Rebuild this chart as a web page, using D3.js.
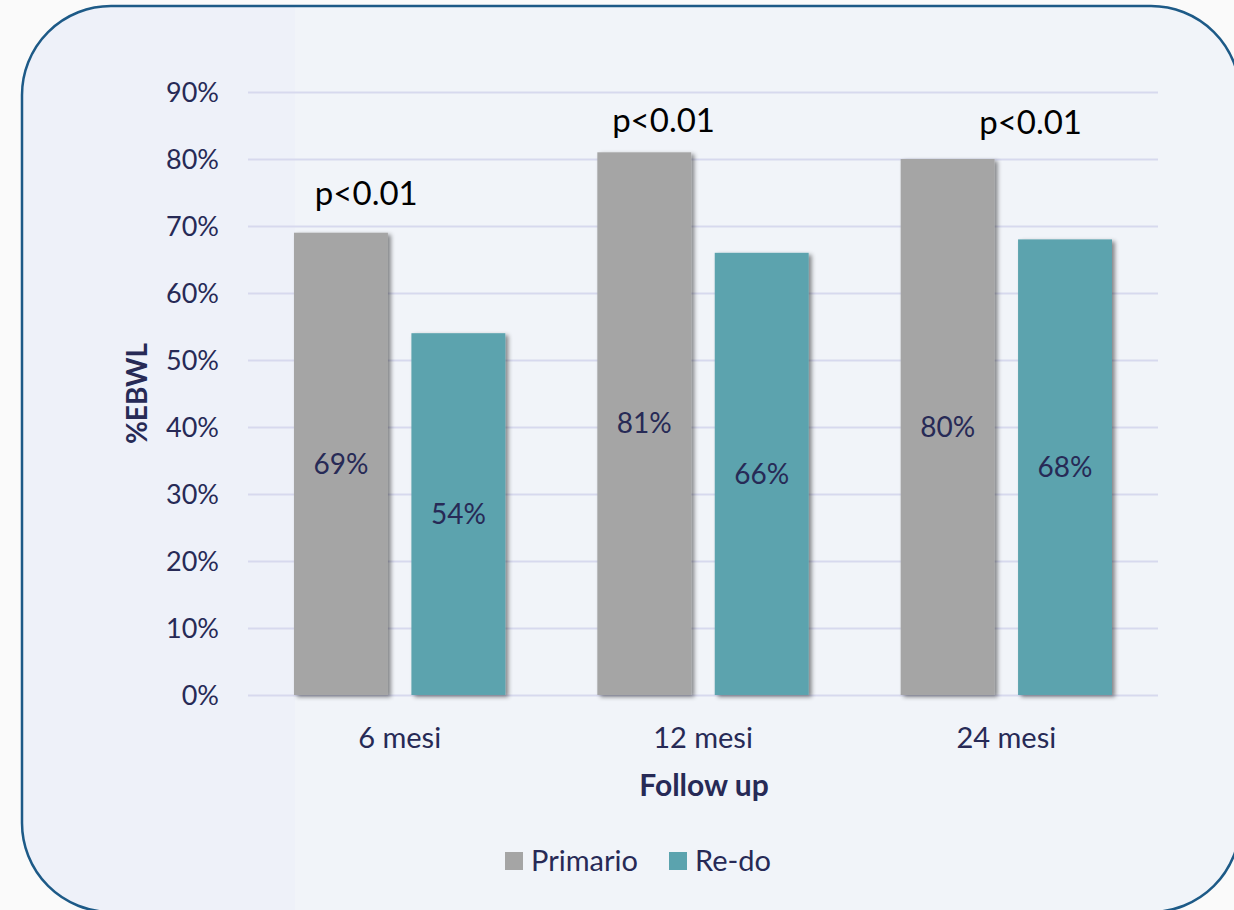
<!DOCTYPE html>
<html>
<head>
<meta charset="utf-8">
<script src="https://cdn.jsdelivr.net/npm/d3@7"></script>
<style>
  html, body { margin: 0; padding: 0; background: #fafafa; }
  svg { display: block; }
  text { font-family: Lato, "Open Sans", sans-serif; }
</style>
</head>
<body>
<svg id="chart" width="1234" height="910"></svg>
<script>
// Follow-up periods and %EBWL per group
const categories = ["6 mesi", "12 mesi", "24 mesi"];
const seriesNames = ["Primario", "Re-do"];
const primario = [69, 81, 80];
const redo = [54, 66, 68];
const yTicks = [0, 10, 20, 30, 40, 50, 60, 70, 80, 90];
const pLabels = ["p<0.01", "p<0.01", "p<0.01"];
// significance label anchors: height in % and horizontal shift within the band
const pLabelLevel = [74.9, 85.8, 85.5];
const pLabelShift = [-0.11, -0.13, 0.08];

const colors = { "Primario": "#a5a5a5", "Re-do": "#5ba3ae" };
const textColor = "#272a56";

const svg = d3.select("#chart");
const W = 1234, H = 910;

// drop shadow for bars
const defs = svg.append("defs");
const f = defs.append("filter").attr("id", "barShadow")
  .attr("x", "-10%").attr("y", "-10%").attr("width", "130%").attr("height", "130%");
f.append("feDropShadow").attr("dx", 3).attr("dy", 2).attr("stdDeviation", 2)
  .attr("flood-color", "#000").attr("flood-opacity", 0.45);

// rounded panel geometry
const panel = { x: 22, y: 6, w: 1218, h: 906, r: 89 };

const clip = defs.append("clipPath").attr("id", "panelClip");
clip.append("rect").attr("x", panel.x).attr("y", panel.y).attr("width", panel.w).attr("height", panel.h)
  .attr("rx", panel.r).attr("ry", panel.r);

svg.append("rect").attr("x", panel.x).attr("y", panel.y).attr("width", panel.w).attr("height", panel.h)
  .attr("rx", panel.r).attr("ry", panel.r).attr("fill", "#eef1f9");
svg.append("rect").attr("clip-path", "url(#panelClip)")
  .attr("x", 295).attr("y", 0).attr("width", W - 295).attr("height", H)
  .attr("fill", "#f1f4f9");
svg.append("rect").attr("x", panel.x).attr("y", panel.y).attr("width", panel.w).attr("height", panel.h)
  .attr("rx", panel.r).attr("ry", panel.r).attr("fill", "none")
  .attr("stroke", "#1d5a87").attr("stroke-width", 2.5);

const margin = { left: 248, right: 1158, top: 92, bottom: 695 };

const y = d3.scaleLinear().domain([0, 90]).range([margin.bottom, margin.top]);
const x0 = d3.scaleBand().domain(categories).range([margin.left, margin.right]).paddingInner(0).paddingOuter(0);
const x1 = d3.scaleBand().domain(seriesNames).range([46, x0.bandwidth() - 46]).paddingInner(0.2);

// gridlines via axis
const grid = svg.append("g").attr("transform", `translate(${margin.left},0)`)
  .call(d3.axisRight(y).tickValues(yTicks).tickSize(margin.right - margin.left).tickFormat(""));
grid.select(".domain").remove();
grid.selectAll(".tick line").attr("stroke", "#d7d9ee").attr("stroke-width", 2);

// y tick labels
const yAxis = svg.append("g").attr("transform", `translate(219,0)`)
  .call(d3.axisLeft(y).tickValues(yTicks).tickSize(0).tickPadding(0).tickFormat(d => d + "%"));
yAxis.select(".domain").remove();
yAxis.selectAll("text").attr("fill", textColor).attr("font-size", 27)
  .style("font-family", "Lato, 'Open Sans', sans-serif").attr("dy", "0.35em");

// bars
const rows = categories.map((c, i) => ({ cat: c, vals: [
  { s: "Primario", v: primario[i] }, { s: "Re-do", v: redo[i] }] }));

const groups = svg.append("g").selectAll("g").data(rows).join("g")
  .attr("transform", d => `translate(${x0(d.cat)},0)`);

groups.selectAll("rect").data(d => d.vals).join("rect")
  .attr("x", d => x1(d.s)).attr("width", x1.bandwidth())
  .attr("y", d => y(d.v)).attr("height", d => y(0) - y(d.v))
  .attr("fill", d => colors[d.s]).attr("filter", "url(#barShadow)");

groups.selectAll("text.val").data(d => d.vals).join("text").attr("class", "val")
  .attr("x", d => x1(d.s) + x1.bandwidth() / 2)
  .attr("y", d => (y(d.v) + y(0)) / 2)
  .attr("dy", "0.35em").attr("text-anchor", "middle")
  .attr("fill", textColor).attr("font-size", 28)
  .text(d => d.v + "%");

// x category labels
const xAxis = svg.append("g").attr("transform", `translate(0,${margin.bottom})`)
  .call(d3.axisBottom(x0).tickSize(0).tickPadding(0));
xAxis.select(".domain").remove();
xAxis.selectAll("text").attr("fill", textColor).attr("font-size", 29)
  .style("font-family", "Lato, 'Open Sans', sans-serif")
  .attr("dy", null).attr("y", 53);

// significance labels
svg.append("g").selectAll("text").data(categories).join("text")
  .attr("x", (d, i) => x0(d) + x0.bandwidth() * (0.5 + pLabelShift[i]))
  .attr("y", (d, i) => y(pLabelLevel[i]))
  .attr("dy", "0.35em").attr("text-anchor", "middle")
  .attr("fill", "#000").attr("font-size", 33)
  .text((d, i) => pLabels[i]);

// axis titles
svg.append("text").attr("transform", `translate(137,${(margin.top + margin.bottom) / 2}) rotate(-90)`)
  .attr("text-anchor", "middle").attr("dy", "0.35em")
  .attr("fill", textColor).attr("font-size", 28).attr("font-weight", "bold")
  .text("%EBWL");

svg.append("text").attr("x", (margin.left + margin.right) / 2 + 1).attr("y", 785)
  .attr("text-anchor", "middle").attr("dy", "0.35em")
  .attr("fill", textColor).attr("font-size", 30).attr("font-weight", "bold")
  .text("Follow up");

// legend
const legend = svg.append("g").attr("transform", "translate(505,861)");
const legItems = legend.selectAll("g").data(seriesNames).join("g")
  .attr("transform", (d, i) => `translate(${i * 164},0)`);
legItems.append("rect").attr("x", 0).attr("y", -9).attr("width", 18).attr("height", 18)
  .attr("fill", d => colors[d]);
legItems.append("text").attr("x", 26).attr("y", 0).attr("dy", "0.35em")
  .attr("fill", textColor).attr("font-size", 29).text(d => d);
</script>
</body>
</html>
